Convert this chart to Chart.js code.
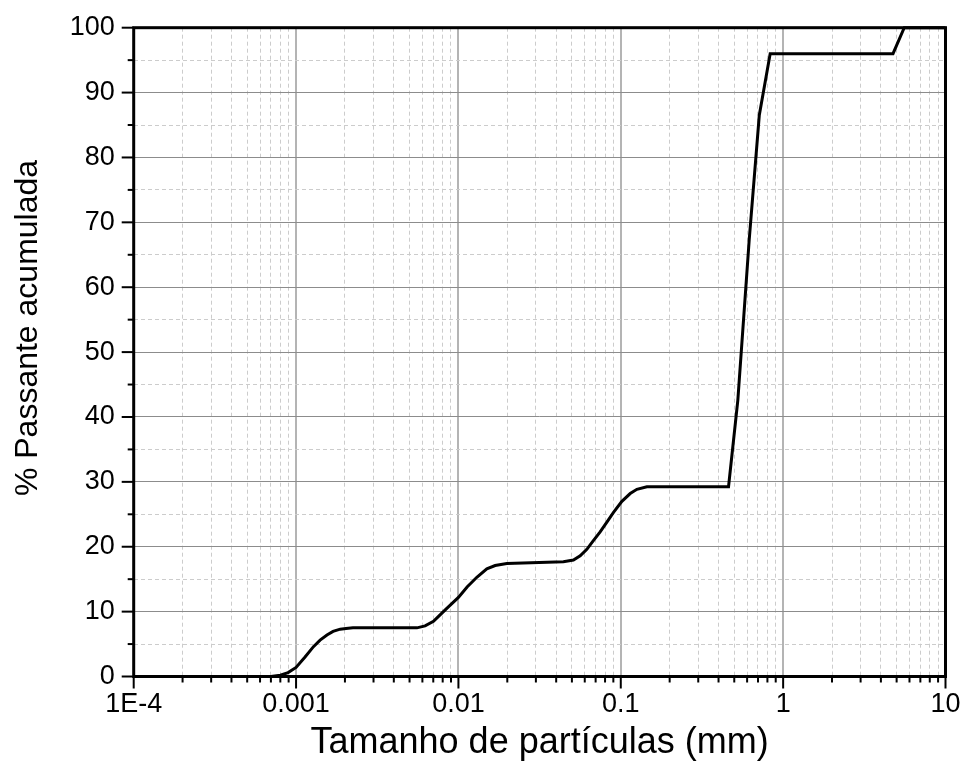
<!DOCTYPE html>
<html>
<head>
<meta charset="utf-8">
<script src="https://cdn.jsdelivr.net/npm/chart.js@4.4.1/dist/chart.umd.min.js"></script>
<style>
  html, body { margin: 0; padding: 0; background: #fff; }
  #wrap { width: 963px; height: 767px; }
</style>
</head>
<body>
<div id="wrap"><canvas id="curva" width="963" height="767"></canvas></div>
<script>
// Curva granulométrica: tamanho (mm) x % passante acumulada
const tamanhos = [0.0004, 0.0007, 0.0008, 0.000893, 0.001, 0.001136, 0.00128, 0.001406, 0.00155, 0.00169, 0.00187, 0.00203, 0.00224,
  0.00555, 0.006233, 0.00702, 0.00771, 0.00848, 0.01, 0.01131, 0.01298, 0.01496, 0.01683, 0.01987,
  0.0443, 0.0511, 0.05622, 0.0618, 0.06761, 0.07464, 0.0821, 0.0902, 0.1016, 0.1143, 0.1257, 0.1448,
  0.461, 0.526, 0.618, 0.713, 0.832, 4.75, 5.57, 10];
const passante = [0, 0, 0.2, 0.6, 1.4, 3.0, 4.6, 5.6, 6.4, 6.95, 7.3, 7.4, 7.5,
  7.5, 7.8, 8.5, 9.5, 10.5, 12.2, 13.8, 15.3, 16.6, 17.1, 17.4,
  17.7, 17.95, 18.6, 19.6, 20.9, 22.3, 23.8, 25.3, 27.0, 28.2, 28.85, 29.25,
  29.25, 42.6, 67.3, 86.5, 96, 96, 100, 100];

// eixos
const xMajores = [1e-4, 0.001, 0.01, 0.1, 1, 10];
const xRotulos = ['1E-4', '0.001', '0.01', '0.1', '1', '10'];
const yValores = [0, 5, 10, 15, 20, 25, 30, 35, 40, 45, 50, 55, 60, 65, 70, 75, 80, 85, 90, 95, 100];

const tituloX = 'Tamanho de partículas (mm)';
const tituloY = '% Passante acumulada';

const FONTE = "'Liberation Sans', Arial, sans-serif";

// marcas menores 2..9 em cada década
const xTicks = [];
xMajores.forEach((d, i) => {
  xTicks.push({ value: d, major: true });
  if (i < xMajores.length - 1) {
    for (let k = 2; k <= 9; k++) xTicks.push({ value: d * k, major: false });
  }
});

const ehMajor = ctx => ctx.tick && ctx.tick.major;

// moldura do gráfico, marcas dos eixos e título vertical
const moldura = {
  id: 'moldura',
  beforeDatasetsDraw(chart) {
    const { ctx, chartArea: a, scales } = chart;
    ctx.save();
    ctx.strokeStyle = '#000';
    ctx.lineWidth = 2;
    scales.x.ticks.forEach(t => {
      const px = scales.x.getPixelForValue(t.value);
      ctx.beginPath();
      ctx.moveTo(px, a.bottom);
      ctx.lineTo(px, a.bottom + (t.major ? 12 : 6));
      ctx.stroke();
    });
    scales.y.ticks.forEach(t => {
      const py = scales.y.getPixelForValue(t.value);
      ctx.beginPath();
      ctx.moveTo(a.left, py);
      ctx.lineTo(a.left - (t.major ? 12 : 6), py);
      ctx.stroke();
    });
    ctx.lineWidth = 3;
    ctx.strokeRect(a.left, a.top, a.right - a.left, a.bottom - a.top);

    ctx.translate(37, 328);
    ctx.rotate(-Math.PI / 2);
    ctx.fillStyle = '#000';
    ctx.font = '32px ' + FONTE;
    ctx.textAlign = 'center';
    ctx.textBaseline = 'alphabetic';
    ctx.fillText(tituloY, 0, 0);
    ctx.restore();
  }
};

new Chart(document.getElementById('curva'), {
  type: 'line',
  data: {
    datasets: [{
      data: tamanhos.map((t, i) => ({ x: t, y: passante[i] })),
      borderColor: '#000',
      borderWidth: 3,
      pointRadius: 0,
      tension: 0,
      fill: false,
      clip: false
    }]
  },
  options: {
    responsive: false,
    animation: false,
    devicePixelRatio: 1,
    layout: { padding: { top: 27.7, right: 17.5, left: 0, bottom: 0 } },
    plugins: { legend: { display: false }, tooltip: { enabled: false } },
    scales: {
      x: {
        type: 'logarithmic',
        min: 1e-4,
        max: 10,
        afterBuildTicks: s => { s.ticks = xTicks.map(t => ({ value: t.value, major: t.major })); },
        afterFit: s => { s.height = 90.5; },
        ticks: {
          autoSkip: false, maxRotation: 0, minRotation: 0, padding: 0,
          color: '#000', font: { family: FONTE, size: 27 },
          callback: v => { const i = xMajores.indexOf(v); return i >= 0 ? xRotulos[i] : ''; }
        },
        grid: {
          color: ctx => ehMajor(ctx) ? '#b4b4b4' : '#cccccc',
          lineWidth: ctx => ehMajor(ctx) ? 2 : 1,
          borderDash: ctx => ehMajor(ctx) ? [] : [4, 3],
          tickLength: 12,
          tickColor: 'rgba(0,0,0,0)'
        },
        border: { display: false, dash: ctx => ehMajor(ctx) ? [] : [4, 3] },
        title: {
          display: true, text: tituloX, color: '#000',
          font: { family: FONTE, size: 36 }, padding: { top: 0, bottom: 2 }
        }
      },
      y: {
        type: 'linear',
        min: 0,
        max: 100,
        afterBuildTicks: s => { s.ticks = yValores.map(v => ({ value: v, major: v % 10 === 0 })); },
        afterFit: s => { s.width = 133.7; },
        ticks: {
          autoSkip: false, padding: 7,
          color: '#000', font: { family: FONTE, size: 27 },
          callback: v => v % 10 === 0 ? String(v) : ''
        },
        grid: {
          color: ctx => ehMajor(ctx) ? '#8c8c8c' : '#cccccc',
          lineWidth: 1,
          borderDash: ctx => ehMajor(ctx) ? [] : [4, 3],
          tickLength: 12,
          tickColor: 'rgba(0,0,0,0)'
        },
        border: { display: false, dash: ctx => ehMajor(ctx) ? [] : [4, 3] }
      }
    }
  },
  plugins: [moldura]
});
</script>
</body>
</html>
